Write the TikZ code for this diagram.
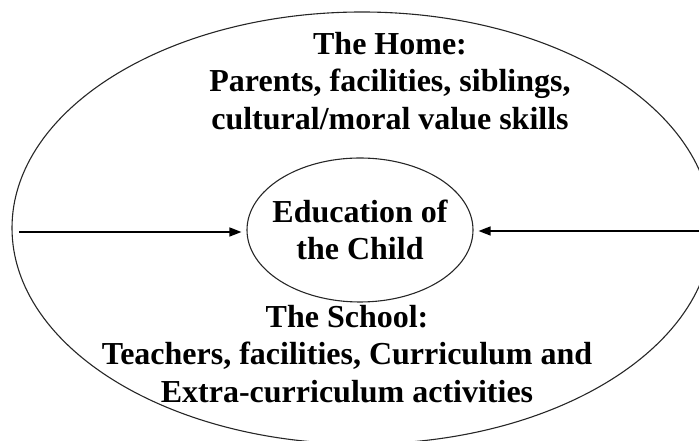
\documentclass[tikz,border=0pt]{standalone}
\usepackage{fontspec}
\setmainfont{Liberation Serif}
\usetikzlibrary{shapes.geometric,arrows.meta}

\begin{document}
\begin{tikzpicture}[x=1pt,y=1pt,line width=1.1pt,
		txt/.style={font=\bfseries\fontsize{32}{37.5}\selectfont, align=center},
		>={Triangle[length=12pt,width=9pt]}]
		\useasboundingbox (0,0) rectangle (699,441);
		\clip (0,0) rectangle (699,441);
		% the outer ring runs past the right and bottom edges
		\draw[black!85] (362,213) ellipse [x radius=350, y radius=216];
		\node[draw=black!85, ellipse, minimum width=226pt, minimum height=144pt,
			inner xsep=-25pt, inner ysep=0pt, txt] (child) at (360,211) {Education of\\the Child};
		\node[txt] (home) at (390,360) {The Home:\\Parents, facilities, siblings,\\cultural/moral value skills};
		\node[txt] (school) at (347,87) {The School:\\Teachers, facilities, Curriculum and\\Extra-curriculum activities};
		\coordinate (left) at (19,209);
		\coordinate (right) at (699,210);
		\draw[->, line width=1.4pt, shorten >=5pt] (left) -- (child.west |- left);
		\draw[->, line width=1.4pt, shorten >=5pt] (right) -- (child.east |- right);
	\end{tikzpicture}
\end{document}
